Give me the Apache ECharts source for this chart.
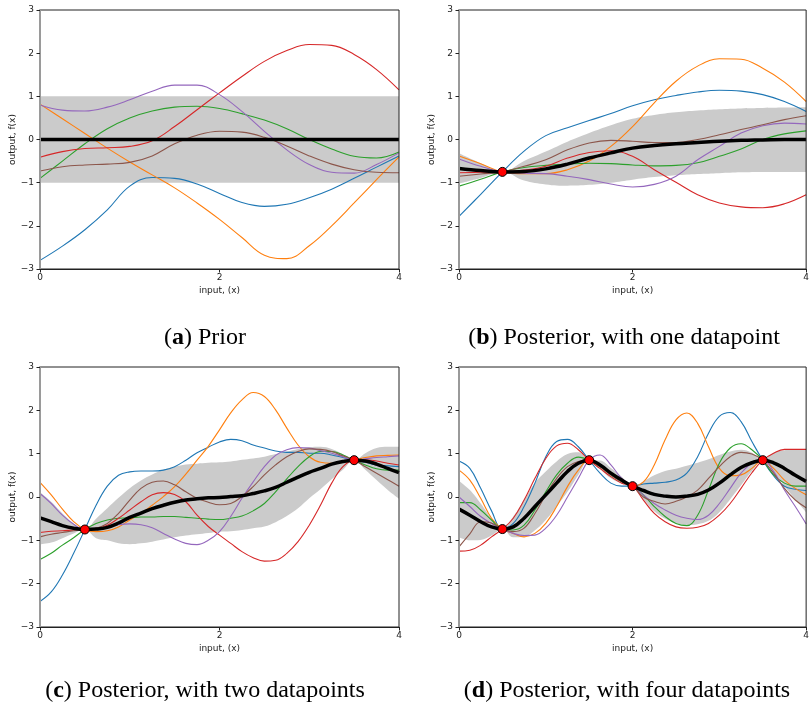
<!DOCTYPE html>
<html>
<head>
<meta charset="UTF-8">
<title>GP prior and posterior samples</title>
<script type="text/javascript" src="https://cdn.jsdelivr.net/npm/echarts@6/dist/echarts.min.js"></script>
<style>html,body{margin:0;padding:0;background:#fff;}</style>
</head>
<body>
<div id="div" style="width:812px;height:707px"></div>
<script type="text/javascript">
// x positions
var xsCoarse = [0, 0.25, 0.5, 0.75, 1, 1.25, 1.5, 1.75, 2, 2.25, 2.5, 2.75, 3, 3.25, 3.5, 3.75, 4];
var xsFine = [0, 0.125, 0.25, 0.375, 0.5, 0.625, 0.75, 0.875, 1, 1.125, 1.25, 1.375, 1.5, 1.625, 1.75, 1.875,
	2, 2.125, 2.25, 2.375, 2.5, 2.625, 2.75, 2.875, 3, 3.125, 3.25, 3.375, 3.5, 3.625, 3.75, 3.875, 4];

// (a) prior
var aMean = [0, 0, 0, 0, 0, 0, 0, 0, 0, 0, 0, 0, 0, 0, 0, 0, 0];
var aUpper = [1, 1, 1, 1, 1, 1, 1, 1, 1, 1, 1, 1, 1, 1, 1, 1, 1];
var aLower = [-1, -1, -1, -1, -1, -1, -1, -1, -1, -1, -1, -1, -1, -1, -1, -1, -1];
var aBlue = [-2.8, -2.47, -2.09, -1.63, -1.08, -0.88, -0.9, -1.03, -1.25, -1.46, -1.55, -1.5, -1.35, -1.15, -0.9, -0.64, -0.38];
var aOrange = [0.82, 0.48, 0.14, -0.2, -0.52, -0.82, -1.12, -1.47, -1.85, -2.27, -2.68, -2.76, -2.46, -2.0, -1.47, -0.93, -0.4];
var aGreen = [-0.9, -0.5, -0.1, 0.25, 0.5, 0.66, 0.75, 0.77, 0.72, 0.6, 0.45, 0.25, 0.0, -0.22, -0.39, -0.43, -0.29];
var aRed = [-0.41, -0.28, -0.21, -0.19, -0.16, -0.03, 0.3, 0.69, 1.08, 1.46, 1.81, 2.06, 2.2, 2.18, 1.97, 1.62, 1.15];
var aPurple = [0.8, 0.68, 0.66, 0.75, 0.92, 1.12, 1.26, 1.26, 1.04, 0.65, 0.19, -0.24, -0.58, -0.76, -0.78, -0.58, -0.31];
var aBrown = [-0.73, -0.63, -0.59, -0.57, -0.53, -0.38, -0.1, 0.1, 0.19, 0.17, 0.05, -0.15, -0.38, -0.57, -0.7, -0.76, -0.77];

// (b) one datapoint
var bPtsX = [0.5];
var bPtsY = [-0.75];
var bMean = [-0.67, -0.72, -0.75, -0.74, -0.68, -0.57, -0.43, -0.31, -0.2, -0.14, -0.1, -0.07, -0.04, -0.02, -0.01, 0, 0];
var bUpper = [-0.32, -0.55, -0.75, -0.5, -0.28, -0.05, 0.15, 0.33, 0.48, 0.57, 0.63, 0.67, 0.7, 0.72, 0.73, 0.74, 0.75];
var bLower = [-1.02, -0.89, -0.75, -0.95, -1.04, -1.07, -1.05, -1.0, -0.93, -0.87, -0.83, -0.8, -0.78, -0.76, -0.75, -0.75, -0.75];
var bBlue = [-1.78, -1.27, -0.75, -0.27, 0.09, 0.27, 0.44, 0.6, 0.78, 0.92, 1.02, 1.1, 1.14, 1.12, 1.04, 0.88, 0.65];
var bOrange = [-0.38, -0.56, -0.75, -0.79, -0.79, -0.7, -0.5, -0.16, 0.3, 0.85, 1.35, 1.7, 1.87, 1.86, 1.65, 1.33, 0.88];
var bGreen = [-1.08, -0.92, -0.75, -0.65, -0.6, -0.57, -0.55, -0.56, -0.59, -0.61, -0.6, -0.54, -0.39, -0.22, 0.0, 0.13, 0.2];
var bRed = [-0.77, -0.76, -0.75, -0.71, -0.62, -0.43, -0.3, -0.26, -0.39, -0.7, -0.99, -1.28, -1.47, -1.56, -1.58, -1.49, -1.28];
var bPurple = [-0.45, -0.62, -0.75, -0.78, -0.79, -0.85, -0.93, -1.03, -1.1, -1.04, -0.85, -0.47, -0.16, 0.15, 0.32, 0.38, 0.36];
var bBrown = [-0.85, -0.8, -0.75, -0.62, -0.47, -0.24, -0.08, -0.02, -0.04, -0.07, -0.07, 0.0, 0.11, 0.23, 0.34, 0.46, 0.55];

// (c) two datapoints
var cPtsX = [0.5, 3.5];
var cPtsY = [-0.75, 0.85];
var cMean = [-0.48, -0.57, -0.66, -0.72, -0.75, -0.74, -0.7, -0.6, -0.47, -0.37, -0.27, -0.19, -0.12, -0.07, -0.04, -0.02,
	-0.01, 0.01, 0.03, 0.08, 0.14, 0.22, 0.34, 0.46, 0.57, 0.66, 0.76, 0.82, 0.85, 0.83, 0.76, 0.66, 0.56];
var cUpper = [0.11, -0.11, -0.38, -0.61, -0.75, -0.5, -0.26, -0.02, 0.2, 0.38, 0.52, 0.63, 0.7, 0.75, 0.77, 0.79,
	0.8, 0.82, 0.86, 0.89, 0.93, 0.99, 1.05, 1.11, 1.15, 1.16, 1.11, 0.99, 0.85, 1.01, 1.13, 1.16, 1.16];
var cLower = [-1.09, -1.05, -0.95, -0.84, -0.75, -0.95, -1.0, -1.07, -1.09, -1.07, -1.03, -0.98, -0.93, -0.89, -0.86, -0.83,
	-0.8, -0.79, -0.76, -0.72, -0.68, -0.58, -0.44, -0.26, -0.03, 0.18, 0.41, 0.63, 0.85, 0.63, 0.39, 0.16, -0.04];
var cBlue = [-2.41, -2.19, -1.8, -1.3, -0.75, -0.19, 0.25, 0.5, 0.58, 0.6, 0.6, 0.62, 0.7, 0.85, 1.02, 1.15,
	1.27, 1.33, 1.3, 1.2, 1.13, 1.06, 1.03, 1.03, 1.01, 1.01, 0.97, 0.91, 0.85, 0.8, 0.74, 0.72, 0.7];
var cOrange = [0.34, 0.05, -0.28, -0.57, -0.75, -0.8, -0.78, -0.69, -0.53, -0.38, -0.19, 0.01, 0.24, 0.53, 0.85, 1.17,
	1.55, 1.94, 2.24, 2.41, 2.32, 2.01, 1.59, 1.2, 0.93, 0.8, 0.78, 0.8, 0.85, 0.91, 0.95, 0.96, 0.97];
var cGreen = [-1.44, -1.3, -1.11, -0.94, -0.75, -0.61, -0.53, -0.49, -0.48, -0.46, -0.46, -0.45, -0.45, -0.47, -0.49, -0.51,
	-0.52, -0.49, -0.44, -0.32, -0.15, 0.12, 0.42, 0.7, 0.93, 1.05, 1.05, 0.97, 0.85, 0.74, 0.65, 0.62, 0.62];
var cRed = [-0.82, -0.79, -0.78, -0.76, -0.75, -0.72, -0.65, -0.49, -0.3, -0.11, 0.05, 0.1, 0.06, -0.11, -0.42, -0.68,
	-0.88, -1.07, -1.26, -1.4, -1.48, -1.46, -1.3, -1.03, -0.65, -0.19, 0.32, 0.7, 0.85, 0.86, 0.83, 0.78, 0.74];
var cPurple = [0.08, -0.15, -0.42, -0.63, -0.75, -0.74, -0.69, -0.64, -0.62, -0.64, -0.71, -0.84, -0.97, -1.07, -1.1, -1.0,
	-0.8, -0.45, -0.03, 0.35, 0.7, 0.96, 1.09, 1.14, 1.13, 1.07, 1.01, 0.93, 0.85, 0.88, 0.91, 0.93, 0.95];
var cBrown = [-0.92, -0.86, -0.82, -0.78, -0.75, -0.72, -0.61, -0.38, -0.07, 0.2, 0.34, 0.37, 0.28, 0.12, -0.03, -0.12,
	-0.18, -0.15, 0.01, 0.24, 0.51, 0.74, 0.93, 1.05, 1.11, 1.1, 1.05, 0.95, 0.85, 0.7, 0.55, 0.4, 0.25];

// (d) four datapoints
var dPtsX = [0.5, 1.5, 2.0, 3.5];
var dPtsY = [-0.74, 0.85, 0.25, 0.85];
var dMean = [-0.28, -0.42, -0.57, -0.69, -0.74, -0.69, -0.49, -0.22, 0.05, 0.32, 0.59, 0.78, 0.85, 0.74, 0.55, 0.39,
	0.25, 0.15, 0.06, 0.02, 0.0, 0.02, 0.06, 0.16, 0.32, 0.51, 0.68, 0.79, 0.85, 0.79, 0.66, 0.5, 0.36];
var dUpper = [0.37, 0.16, -0.15, -0.49, -0.74, -0.45, -0.07, 0.33, 0.59, 0.82, 0.99, 1.03, 0.85, 0.84, 0.67, 0.47,
	0.25, 0.36, 0.5, 0.6, 0.65, 0.72, 0.79, 0.87, 0.97, 1.05, 1.09, 1.02, 0.85, 1.02, 1.08, 1.1, 1.1];
var dLower = [-0.93, -1.0, -0.99, -0.89, -0.74, -0.93, -0.92, -0.77, -0.53, -0.22, 0.12, 0.51, 0.85, 0.64, 0.43, 0.31,
	0.25, -0.05, -0.33, -0.5, -0.6, -0.65, -0.63, -0.55, -0.35, -0.05, 0.27, 0.6, 0.85, 0.58, 0.25, -0.05, -0.35];
var dBlue = [0.83, 0.66, 0.2, -0.32, -0.74, -0.61, -0.22, 0.32, 0.93, 1.28, 1.33, 1.16, 0.85, 0.55, 0.32, 0.25,
	0.25, 0.3, 0.32, 0.34, 0.39, 0.55, 0.93, 1.47, 1.86, 1.95, 1.74, 1.28, 0.85, 0.49, 0.25, 0.18, 0.15];
var dOrange = [0.62, 0.39, -0.03, -0.49, -0.74, -0.84, -0.92, -0.84, -0.61, -0.22, 0.24, 0.62, 0.85, 0.74, 0.55, 0.38,
	0.25, 0.35, 0.74, 1.32, 1.78, 1.94, 1.7, 1.16, 0.66, 0.49, 0.51, 0.66, 0.85, 0.66, 0.39, 0.2, 0.05];
var dGreen = [-0.13, -0.13, -0.3, -0.53, -0.74, -0.76, -0.65, -0.3, 0.12, 0.51, 0.78, 0.92, 0.85, 0.7, 0.51, 0.35,
	0.25, 0.05, -0.22, -0.45, -0.61, -0.66, -0.42, 0.16, 0.78, 1.13, 1.23, 1.09, 0.85, 0.51, 0.32, 0.25, 0.25];
var dRed = [-1.25, -1.23, -1.11, -0.92, -0.74, -0.49, -0.07, 0.43, 0.89, 1.18, 1.24, 1.09, 0.85, 0.66, 0.47, 0.32,
	0.25, -0.07, -0.38, -0.57, -0.69, -0.72, -0.7, -0.61, -0.42, -0.15, 0.2, 0.56, 0.85, 1.01, 1.1, 1.1, 1.1];
var dPurple = [0.0, -0.22, -0.45, -0.61, -0.74, -0.84, -0.89, -0.88, -0.72, -0.42, 0.0, 0.43, 0.85, 0.97, 0.74, 0.43,
	0.25, 0.05, -0.15, -0.3, -0.42, -0.49, -0.52, -0.42, -0.15, 0.2, 0.55, 0.78, 0.85, 0.59, 0.16, -0.22, -0.62];
var dBrown = [-1.15, -0.85, -0.57, -0.6, -0.74, -0.8, -0.72, -0.38, 0.05, 0.43, 0.7, 0.82, 0.85, 0.7, 0.51, 0.35,
	0.25, 0.0, -0.1, -0.16, -0.1, 0.0, 0.16, 0.43, 0.7, 0.93, 1.03, 0.99, 0.85, 0.55, 0.2, -0.07, -0.25];

var yTicks = [-3, -2, -1, 0, 1, 2, 3];
var xTicks = [0, 2, 4];
var captions = ['({b|a}) Prior', '({b|b}) Posterior, with one datapoint',
	'({b|c}) Posterior, with two datapoints', '({b|d}) Posterior, with four datapoints'];

var sampleColors = ['#1f77b4', '#ff7f0e', '#2ca02c', '#d62728', '#9467bd', '#8c564b'];

var panels = [
	{ xs: xsCoarse, mean: aMean, upper: aUpper, lower: aLower, samples: [aBlue, aOrange, aGreen, aRed, aPurple, aBrown], px: [], py: [] },
	{ xs: xsCoarse, mean: bMean, upper: bUpper, lower: bLower, samples: [bBlue, bOrange, bGreen, bRed, bPurple, bBrown], px: bPtsX, py: bPtsY },
	{ xs: xsFine, mean: cMean, upper: cUpper, lower: cLower, samples: [cBlue, cOrange, cGreen, cRed, cPurple, cBrown], px: cPtsX, py: cPtsY },
	{ xs: xsFine, mean: dMean, upper: dUpper, lower: dLower, samples: [dBlue, dOrange, dGreen, dRed, dPurple, dBrown], px: dPtsX, py: dPtsY }
];

var boxes = [
	{ left: 40, top: 10, width: 359, height: 259 },
	{ left: 459, top: 10, width: 359, height: 259 },
	{ left: 40, top: 367, width: 359, height: 260 },
	{ left: 459, top: 367, width: 359, height: 260 }
];
var captionPos = [[205, 338], [624, 338], [205, 691], [627, 691]];

function pairs(xs, ys) {
	var out = [];
	for (var i = 0; i < ys.length; i++) out.push([xs[i], ys[i]]);
	return out;
}
function minus(v) {
	return String(v).replace('-', '\u2212');
}

var grid = [], xAxis = [], yAxis = [], series = [], graphic = [];

for (var k = 0; k < 4; k++) {
	var p = panels[k];
	grid.push({
		left: boxes[k].left, top: boxes[k].top, width: boxes[k].width, height: boxes[k].height,
		show: true, z: 10, borderColor: '#222', borderWidth: 1, backgroundColor: 'transparent'
	});
	xAxis.push({
		gridIndex: k, type: 'value', min: xTicks[0], max: xTicks[xTicks.length - 1], interval: 2, z: 10,
		name: 'input, (x)', nameLocation: 'middle', nameGap: 17,
		nameTextStyle: { fontFamily: 'DejaVu Sans', fontSize: 9, color: '#222' },
		axisLine: { show: true, onZero: false, lineStyle: { color: '#222', width: 1 } },
		axisTick: { show: true, length: 3.5, lineStyle: { color: '#222' } },
		axisLabel: { margin: 4, fontFamily: 'DejaVu Sans', fontSize: 9, color: '#222' },
		splitLine: { show: false }
	});
	yAxis.push({
		gridIndex: k, type: 'value', min: yTicks[0], max: yTicks[yTicks.length - 1], interval: 1, z: 10,
		name: 'output, f(x)', nameLocation: 'middle', nameGap: 23,
		nameTextStyle: { fontFamily: 'DejaVu Sans', fontSize: 9, color: '#222' },
		axisLine: { show: true, onZero: false, lineStyle: { color: '#9a9a9a', width: 2 } },
		axisTick: { show: true, length: 3.5, lineStyle: { color: '#222' } },
		axisLabel: { margin: 6, fontFamily: 'DejaVu Sans', fontSize: 9, color: '#222', formatter: minus },
		splitLine: { show: false }
	});

	// shaded band: grey fill under the upper edge, then white fill under the lower edge
	series.push({
		type: 'line', xAxisIndex: k, yAxisIndex: k,
		data: pairs(p.xs, p.upper), smooth: 0.4, symbol: 'none', silent: true,
		lineStyle: { width: 0, opacity: 0 }, areaStyle: { color: '#cbcbcb', opacity: 1, origin: 'start' }
	});
	series.push({
		type: 'line', xAxisIndex: k, yAxisIndex: k,
		data: pairs(p.xs, p.lower), smooth: 0.4, symbol: 'none', silent: true,
		lineStyle: { width: 0, opacity: 0 }, areaStyle: { color: '#ffffff', opacity: 1, origin: 'start' }
	});
	for (var s = 0; s < p.samples.length; s++) {
		series.push({
			type: 'line', xAxisIndex: k, yAxisIndex: k,
			data: pairs(p.xs, p.samples[s]), smooth: 0.4, symbol: 'none', silent: true,
			lineStyle: { color: sampleColors[s], width: 1.1 }
		});
	}
	series.push({
		type: 'line', xAxisIndex: k, yAxisIndex: k,
		data: pairs(p.xs, p.mean), smooth: 0.4, symbol: 'none', silent: true,
		lineStyle: { color: '#000', width: 3.5 }
	});
	if (p.px.length) {
		series.push({
			type: 'scatter', xAxisIndex: k, yAxisIndex: k, z: 5,
			data: pairs(p.px, p.py), symbol: 'circle', symbolSize: 9, silent: true,
			itemStyle: { color: '#ff0000', borderColor: '#000', borderWidth: 1, opacity: 1 }
		});
	}

	graphic.push({
		type: 'text', x: captionPos[k][0], y: captionPos[k][1],
		style: {
			text: captions[k], fontFamily: 'Liberation Serif', fontSize: 24, fill: '#000',
			align: 'center', verticalAlign: 'middle', textAlign: 'center', textVerticalAlign: 'middle',
			rich: { b: { fontFamily: 'Liberation Serif', fontSize: 24, fontWeight: 'bold', fill: '#000' } }
		}
	});
}

var mychart = echarts.init(document.getElementById('div'));
mychart.setOption({
	animation: false,
	backgroundColor: '#fff',
	grid: grid,
	xAxis: xAxis,
	yAxis: yAxis,
	series: series,
	graphic: graphic
});
</script>
</body>
</html>
